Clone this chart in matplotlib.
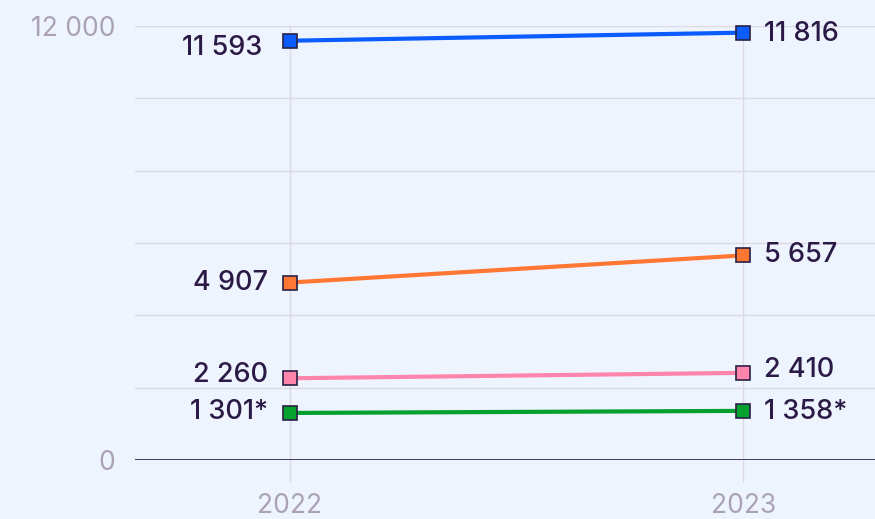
import matplotlib
matplotlib.use("Agg")
import matplotlib.pyplot as plt
from matplotlib.ticker import FixedLocator, FixedFormatter

years = [2022, 2023]
series_a = [11593, 11816]
series_b = [4907, 5657]
series_c = [2260, 2410]
series_d = [1301, 1358]
labels_a = ["11 593", "11 816"]
labels_b = ["4 907", "5 657"]
labels_c = ["2 260", "2 410"]
labels_d = ["1 301*", "1 358*"]
y_ticks = [0, 2000, 4000, 6000, 8000, 10000, 12000]
y_tick_labels = ["0", "", "", "", "", "", "12 000"]
x_tick_labels = ["2022", "2023"]

colors = ["#0a5cff", "#ff7733", "#ff85ad", "#04a12e"]
bg = "#eef4fe"
grid_c = "#dcd8e4"
text_c = "#2a1a45"
tick_c = "#aaa2b4"
edge_c = "#2a2045"

plt.rcParams['font.family'] = ['Inter', 'DejaVu Sans']

fig = plt.figure(figsize=(8.75, 5.19), dpi=100)
fig.patch.set_facecolor(bg)
ax = fig.add_axes([135/875, (519-460)/519, 740/875, 434/519])
ax.set_facecolor(bg)

ax.set_xlim(2021.658, 2023.291)
ax.set_ylim(0, 12000)

for s in ax.spines.values():
    s.set_visible(False)
ax.axhline(0, color=text_c, lw=1.2, zorder=2)

ax.yaxis.set_major_locator(FixedLocator(y_ticks))
ax.yaxis.set_major_formatter(FixedFormatter(y_tick_labels))
ax.set_xticks(years)
ax.set_xticklabels(x_tick_labels)
ax.tick_params(axis='y', length=0, pad=14, labelsize=19, labelcolor=tick_c)
ax.tick_params(axis='x', length=16, width=1, color=grid_c, pad=8, labelsize=19, labelcolor=tick_c)
ax.grid(True, color=grid_c, lw=1, zorder=0)
ax.set_axisbelow(True)

all_series = [series_a, series_b, series_c, series_d]
all_labels = [labels_a, labels_b, labels_c, labels_d]
left_off = [(-20, -5), (-16, 0), (-16, 2), (-16, 1)]
right_off = [(15, -1), (15, 0), (15, 2), (15, -1)]
for vals, labs, c, lo, ro in zip(all_series, all_labels, colors, left_off, right_off):
    ax.plot(years, vals, color=c, lw=3.0, marker='s', markersize=9.5,
            markerfacecolor=c, markeredgecolor=edge_c, markeredgewidth=1.2,
            zorder=3, clip_on=False)
    ax.annotate(labs[0], (years[0], vals[0]), xytext=lo, textcoords='offset points',
                ha='right', va='center', fontsize=19.5, fontweight='medium', color=text_c)
    ax.annotate(labs[1], (years[1], vals[1]), xytext=ro, textcoords='offset points',
                ha='left', va='center', fontsize=19.5, fontweight='medium', color=text_c)

fig.savefig("out.png", dpi=100, facecolor=bg)
